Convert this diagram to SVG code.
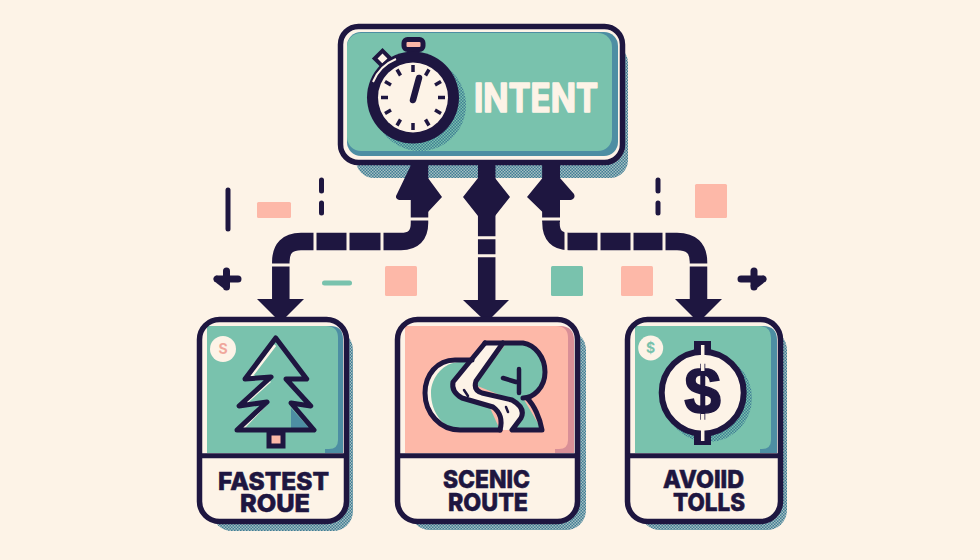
<svg xmlns="http://www.w3.org/2000/svg" width="980" height="560" viewBox="0 0 980 560">
<style>
.ink{fill:#1e1640}
.pipe{fill:none;stroke:#1e1640;stroke-width:17.5}
.gap{stroke:#fdf3e7;stroke-width:3;fill:none}
.deco{stroke:#1e1640;stroke-width:5;stroke-linecap:round;fill:none}
.cross{stroke:#1e1640;stroke-width:7;stroke-linecap:round;stroke-linejoin:round;fill:none}
.pink{fill:#fdb8a8}
.green{fill:#79c2ad}
.frame{fill:none;stroke:#1e1640;stroke-width:5.5}
.card{fill:#fdf3e7}
.shade{fill:#4d8ea3}
.label{font-family:"Inter","Liberation Sans",sans-serif;font-weight:800;fill:#1e1640;text-anchor:middle;font-size:25px;stroke:#1e1640;stroke-width:.6}
.line{fill:none;stroke:#1e1640;stroke-width:5;stroke-linejoin:round;stroke-linecap:round}
</style>
<defs>
<pattern id="dither" width="3" height="3" patternUnits="userSpaceOnUse">
<rect width="3" height="3" fill="#3f7d94"/>
<rect width="1.5" height="1.5" fill="#fdf3e7" opacity=".55"/>
<rect x="1.5" y="1.5" width="1.5" height="1.5" fill="#fdf3e7" opacity=".55"/>
</pattern>
<pattern id="dither2" width="3" height="3" patternUnits="userSpaceOnUse">
<rect width="3" height="3" fill="#3f7d94"/>
<rect width="1.5" height="1.5" fill="#79c2ad"/>
<rect x="1.5" y="1.5" width="1.5" height="1.5" fill="#79c2ad"/>
</pattern>
</defs>
<rect width="980" height="560" fill="#fdf3e7"/>

<g id="decorations">
<line class="deco" x1="228" y1="190" x2="228" y2="229"/>
<rect class="pink" x="257" y="202" width="34" height="16" rx="1.5"/>
<line class="deco" x1="321.500" y1="180" x2="321.500" y2="191"/>
<line class="deco" x1="321.500" y1="203" x2="321.500" y2="213"/>
<path class="cross" d="M217 279H238M226.500 271V287M217 279L226 286"/>
<rect class="green" x="322" y="280.500" width="30" height="5" rx="2.500"/>
<rect class="pink" x="385" y="266" width="32" height="30" rx="1.500"/>
<rect class="green" x="551" y="266" width="32" height="30" rx="1.500"/>
<rect class="pink" x="621" y="266" width="32" height="30" rx="1.500"/>
<rect class="pink" x="695" y="184" width="32" height="34" rx="1.500"/>
<line class="deco" x1="658" y1="180" x2="658" y2="191"/>
<line class="deco" x1="658" y1="203" x2="658" y2="213"/>
<path class="cross" d="M741 279H763M754 271V287M763 279L754 286"/>
</g>

<g id="intent">
<rect x="356" y="45" width="272" height="133" rx="18" fill="url(#dither)"/>
<rect class="card" x="340.500" y="26.500" width="282" height="136" rx="18"/>
<rect class="shade" x="347" y="32" width="271" height="124" rx="14"/>
<rect class="green" x="347" y="33" width="265" height="118" rx="14"/>
<rect class="frame" x="340.500" y="26.500" width="282" height="136" rx="18"/>
<circle cx="420" cy="105" r="46" fill="url(#dither2)"/>
<rect x="377" y="53" width="11" height="11" transform="rotate(45 382.500 58.500)" fill="#fdf3e7" stroke="#1e1640" stroke-width="4"/>
<rect x="409" y="48" width="8" height="10" fill="#fdf3e7" stroke="#1e1640" stroke-width="2"/>
<rect x="404" y="39.500" width="19" height="10" rx="3.500" fill="#fdb8a8" stroke="#1e1640" stroke-width="5"/>
<circle class="ink" cx="413" cy="97.500" r="46"/>
<path d="M373 82A42 42 0 0 1 396 59" fill="none" stroke="#fdf3e7" stroke-width="2"/>
<circle class="card" cx="413" cy="97.500" r="35"/>
<g stroke="#1e1640" stroke-width="3.500">
<line x1="413" y1="65" x2="413" y2="72"/>
<line x1="413" y1="123" x2="413" y2="130"/>
<line x1="381" y1="97.500" x2="388" y2="97.500"/>
<line x1="438" y1="97.500" x2="445" y2="97.500"/>
<line x1="397" y1="69.500" x2="400.500" y2="75.500"/>
<line x1="429" y1="69.500" x2="425.500" y2="75.500"/>
<line x1="385" y1="81.500" x2="391" y2="85"/>
<line x1="441" y1="81.500" x2="435" y2="85"/>
<line x1="385" y1="113.500" x2="391" y2="110"/>
<line x1="441" y1="113.500" x2="435" y2="110"/>
<line x1="397" y1="125.500" x2="400.500" y2="119.500"/>
<line x1="429" y1="125.500" x2="425.500" y2="119.500"/>
</g>
<line x1="413" y1="100" x2="419" y2="78" stroke="#1e1640" stroke-width="6.500" stroke-linecap="round"/>
<text x="536" y="111.500" font-family="Inter,'Liberation Sans',sans-serif" font-weight="700" font-size="39" fill="#fdf3e7" stroke="#fdf3e7" stroke-width="1.500" stroke-linejoin="round" text-anchor="middle" textLength="124" lengthAdjust="spacingAndGlyphs">INTENT</text>
</g>

<g id="connectors">
<path class="pipe" d="M419.500 163V223Q419.500 241.500 401 241.500H301Q280.800 241.500 280.800 262V304"/>
<path class="ink" d="M411 165H428V178L442 197L428 212V222H411V200H399Q394 198 397 194Z"/>
<path class="ink" d="M257 299H304L283 320H278Z"/>
<path class="gap" d="M409 219H430M315 231V252M348 231V252M382 231V252M270 265H291"/>
<path class="pipe" d="M486.700 163V304"/>
<path class="ink" d="M478 165H495V178L510 197L495 216V222H478V216L463 197L478 178Z"/>
<path class="ink" d="M463 300H509L489 320H484Z"/>
<path class="gap" d="M476 237.700H497M476 255.700H497"/>
<path class="pipe" d="M551 163V223Q551 241.500 569 241.500H677Q698.500 241.500 698.500 262V304"/>
<path class="ink" d="M542.500 165H560V178L574 194Q576 198 571 200H560V222H542.500V212L527 197L542.500 178Z"/>
<path class="ink" d="M675 299H722L701 320H696Z"/>
<path class="gap" d="M541 219H562M566 231V252M599 231V252M632 231V252M664 231V252M688 265H709"/>
</g>

<g id="fastest-route">
<rect x="212" y="330" width="141" height="201" rx="20" fill="url(#dither)"/>
<rect class="card" x="199.500" y="319.500" width="147" height="202" rx="20"/>
<path class="shade" d="M207 326H330Q343 326 343 339V453H207Z"/>
<path class="green" d="M207 326H326Q338 326 338 338V440Q338 449 329 449H207Z"/>
<path class="green" d="M207 445H325V453H207Z"/>
<circle class="card" cx="223" cy="349" r="13"/>
<text x="223" y="354" font-family="Inter,'Liberation Sans',sans-serif" font-size="14" font-weight="700" fill="#f0a79c" text-anchor="middle">S</text>
<path class="shade" d="M291 408L309 428H291Z"/>
<path d="M275 345L249 379M270 381L243 405M266 404L243 428" fill="none" stroke="#fdf3e7" stroke-width="3"/>
<path class="line" d="M275.700 338L306.700 379H286L310.700 406L291 403L314 430H237L267 402L239 406L271 377L245 379Z"/>
<rect x="269" y="433" width="14" height="13" fill="#fdb8a8" stroke="#1e1640" stroke-width="5"/>
<rect class="frame" x="199.500" y="319.500" width="147" height="202" rx="20"/>
<line x1="199" y1="455.700" x2="347" y2="455.700" stroke="#1e1640" stroke-width="5"/>
<text class="label" x="273.500" y="490" textLength="111" lengthAdjust="spacingAndGlyphs">FASTEST</text>
<text class="label" x="275" y="512" textLength="70" lengthAdjust="spacingAndGlyphs">ROUE</text>
</g>

<g id="scenic-route">
<rect x="410" y="330" width="176" height="200" rx="20" fill="url(#dither)"/>
<rect class="card" x="397.500" y="319.500" width="180" height="202" rx="20"/>
<path d="M405 326H560Q574 326 574 340V453H405Z" fill="#d98f97"/>
<path class="pink" d="M405 326H556Q568 326 568 338V440Q568 449 559 449H405Z"/>
<path class="pink" d="M405 445H555V453H405Z"/>
<path class="card" d="M475 360H455C437 360 425 375 425 393C425 413 440 430 460 430H480Z"/>
<path class="green" d="M475 362H460C444 362 431 377 431 393C431 413 444 430 462 430H500L486 399L455 388ZM505 345H523C535 345 545 357 545 372C545 388 533 398 523 398L542 430H510L500 395L475 385Z"/>
<path class="card" d="M485 343L453 382Q451 392 462 398L493 407Q504 415 500 430H512L521 418Q526 408 512 400L482 393Q473 390 476 381L503 343Z"/>
<path class="line" d="M472 360H455C437 360 425 375 425 393C425 413 440 430 460 430H500"/>
<path class="line" d="M485 343H523C535 345 545 357 545 372C545 388 533 398 523 398"/>
<path class="line" d="M485 343L453 382Q451 392 462 398L493 407Q504 415 500 430"/>
<path class="line" d="M503 343L476 381Q473 390 482 393L512 400Q526 408 521 418L512 430H542C540 418 534 405 527 398"/>
<path d="M519 369V393M503 378L516 382" fill="none" stroke="#1e1640" stroke-width="4.500" stroke-linecap="round"/>
<path d="M464 390L468 396M506 407L508 412" fill="none" stroke="#1e1640" stroke-width="2.500" stroke-linecap="round"/>
<rect class="frame" x="397.500" y="319.500" width="180" height="202" rx="20"/>
<line x1="397" y1="455.700" x2="578" y2="455.700" stroke="#1e1640" stroke-width="5"/>
<text class="label" x="486.500" y="488" textLength="87" lengthAdjust="spacingAndGlyphs">SCENIC</text>
<text class="label" x="488" y="511" textLength="80" lengthAdjust="spacingAndGlyphs">ROUTE</text>
</g>

<g id="avoid-tolls">
<rect x="640" y="330" width="147" height="200" rx="20" fill="url(#dither)"/>
<rect class="card" x="627.500" y="319.500" width="153" height="202" rx="20"/>
<path class="shade" d="M635 326H763Q777 326 777 340V453H635Z"/>
<path class="green" d="M635 326H759Q771 326 771 338V440Q771 449 762 449H635Z"/>
<path class="green" d="M635 445H760V453H635Z"/>
<circle class="card" cx="650.700" cy="348" r="12.500"/>
<text x="650.700" y="353" font-family="Inter,'Liberation Sans',sans-serif" font-size="14" font-weight="700" fill="#79c2ad" text-anchor="middle">$</text>
<circle cx="708" cy="398" r="44" fill="url(#dither2)"/>
<path class="ink" d="M694 341H711V352H694ZM694 434H711V445H694Z"/>
<circle cx="702.700" cy="392.700" r="41" fill="#fdf3e7" stroke="#1e1640" stroke-width="6"/>
<text x="702.700" y="414" font-family="'Liberation Sans',sans-serif" font-size="66" font-weight="700" fill="#1e1640" stroke="#1e1640" stroke-width="1.500" text-anchor="middle">$</text>
<path d="M702.700 345V371M702.700 414V441" fill="none" stroke="#fdf3e7" stroke-width="3.500"/>
<rect class="frame" x="627.500" y="319.500" width="153" height="202" rx="20"/>
<line x1="627" y1="455.700" x2="781" y2="455.700" stroke="#1e1640" stroke-width="5"/>
<text class="label" x="703.500" y="488" textLength="81" lengthAdjust="spacingAndGlyphs">AVOIID</text>
<text class="label" x="709" y="511" textLength="72" lengthAdjust="spacingAndGlyphs">TOLLS</text>
</g>
</svg>
